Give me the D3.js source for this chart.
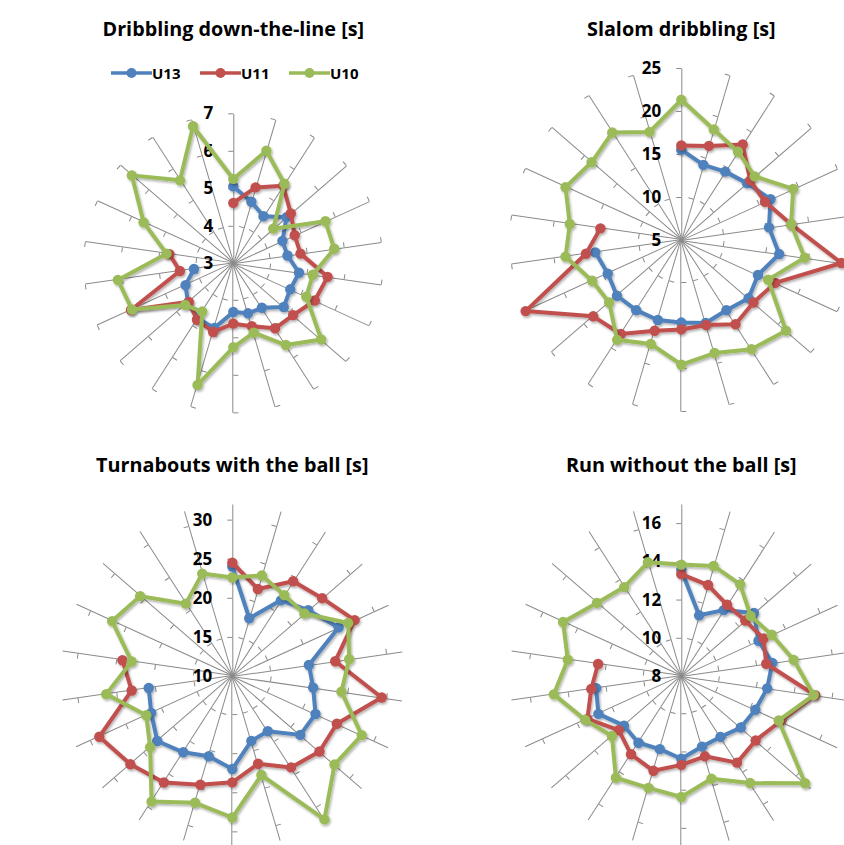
<!DOCTYPE html>
<html>
<head>
<meta charset="utf-8">
<script src="https://cdn.jsdelivr.net/npm/d3@7"></script>
<style>
  body { margin: 0; background: #fff; }
  svg text { font-family: "Open Sans", Lato, sans-serif; }
</style>
</head>
<body>
<svg id="chart" width="844" height="845"></svg>
<script>
// Age groups and their colours
const seriesNames = ["U13", "U11", "U10"];
const seriesColors = ["#4F81BD", "#C0504D", "#9BBB59"];

// 22 tested players / spokes, clockwise from the top
const spokeCount = 22;
const spokeIds = d3.range(1, spokeCount + 1);

// Dribbling down-the-line [s]
const dribblingTicks = [3, 4, 5, 6, 7];
const dribblingU13 = [5.05, 4.71, 4.49, 4.88, 4.44, 4.46, 4.77, 4.67, 4.78, 4.41, 4.39, 4.30, 4.80, 4.75, 4.60, 4.40, 4.06];
const dribblingU11 = [4.61, 5.11, 5.46, 5.03, 4.80, 4.81, 5.54, 5.39, 5.11, 5.06, 4.75, 4.61, 4.91, 4.79, 4.57, 6.00, 4.44, 4.72];
const dribblingU10 = [5.25, 6.13, 5.52, 4.41, 5.70, 5.72, 5.14, 5.14, 6.10, 5.59, 4.93, 5.24, 6.38, 4.53, 4.70, 5.97, 6.11, 4.80, 5.63, 6.58, 5.63, 6.81];

// Slalom dribbling [s]
const slalomTicks = [5, 10, 15, 20, 25];
const slalomU13 = [15.5, 14.1, 14.45, 15.1, 16.4, 15.3, 16.5, 14.8, 15.35, 14.7, 15.05, 14.6, 14.7, 14.7, 14.9, 14.4, 15.1];
const slalomU11 = [16.0, 16.4, 18.2, 15.6, 15.7, 17.9, 23.8, 17.0, 16.1, 16.65, 15.3, 15.4, 16.0, 18.0, 18.55, 24.9, 16.2, 14.5];
const slalomU10 = [21.3, 18.4, 17.2, 16.3, 19.3, 17.9, 19.5, 16.1, 21.1, 20.1, 18.7, 19.5, 17.6, 18.8, 16.1, 16.4, 18.6, 18.1, 19.8, 18.8, 19.85, 18.1];

// Turnabouts with the ball [s]
const turnaboutTicks = [10, 15, 20, 25, 30];
const turnaboutU13 = [24.0, 17.7, 21.5, 22.85, 24.95, 19.9, 20.45, 21.7, 21.5, 18.4, 18.65, 21.9, 20.7, 21.6, 22.7, 21.4, 20.8];
const turnaboutU11 = [24.5, 21.6, 24.4, 25.2, 27.2, 23.3, 29.3, 24.7, 24.75, 23.9, 21.7, 23.6, 24.5, 26.2, 27.25, 28.7, 23.0, 24.2];
const turnaboutU10 = [22.6, 23.4, 22.3, 22.2, 26.3, 25.1, 24.1, 28.2, 27.3, 31.8, 23.2, 28.1, 26.9, 29.1, 23.9, 22.1, 26.3, 23.0, 26.9, 25.6, 21.0, 23.65];

// Run without the ball [s]
const runTicks = [8, 10, 12, 14, 16];
const runU13 = [13.55, 11.31, 12.1, 13.03, 12.44, 12.81, 12.54, 12.26, 12.12, 11.79, 11.85, 12.33, 11.99, 12.15, 11.97, 12.77, 12.5];
const runU11 = [13.33, 12.96, 12.43, 12.43, 12.73, 12.49, 15.08, 13.7, 13.15, 13.39, 12.38, 12.65, 13.17, 12.87, 12.33, 13.4, 12.76, 12.4];
const runU10 = [13.83, 14.0, 13.7, 12.8, 13.2, 13.94, 15.0, 13.6, 16.57, 14.66, 13.6, 14.33, 14.1, 14.33, 12.8, 13.53, 14.74, 14.0, 14.8, 13.84, 13.53, 14.2];

const panels = [
  { title: "Dribbling down-the-line [s]", series: [dribblingU13, dribblingU11, dribblingU10],
    ticks: dribblingTicks, domain: [3, 7], cx: 233.3, cy: 263.3, radius: 150, titleY: 36, legend: true },
  { title: "Slalom dribbling [s]", series: [slalomU13, slalomU11, slalomU10],
    ticks: slalomTicks, domain: [5, 25], cx: 681.3, cy: 240, radius: 172, titleY: 36 },
  { title: "Turnabouts with the ball [s]", series: [turnaboutU13, turnaboutU11, turnaboutU10],
    ticks: turnaboutTicks, domain: [10, 32], cx: 232.3, cy: 676, radius: 172, titleY: 472 },
  { title: "Run without the ball [s]", series: [runU13, runU11, runU10],
    ticks: runTicks, domain: [8, 17], cx: 681.3, cy: 676, radius: 172, titleY: 472 }
];

const svg = d3.select("#chart");

// soft shadow under the series lines and markers
svg.append("defs").append("filter")
  .attr("id", "shadow").attr("x", "-20%").attr("y", "-20%").attr("width", "140%").attr("height", "140%")
  .append("feDropShadow")
  .attr("dx", 1.2).attr("dy", 1.8).attr("stdDeviation", 1.2)
  .attr("flood-color", "#000").attr("flood-opacity", 0.3);

const angle = d3.scaleLinear().domain([0, spokeCount]).range([0, 2 * Math.PI]);
const toDeg = a => a * 180 / Math.PI;

panels.forEach(p => {
  const g = svg.append("g").attr("transform", `translate(${p.cx},${p.cy})`);
  const r = d3.scaleLinear().domain(p.domain).range([0, p.radius]);
  // value scale along an upward spoke
  const ry = d3.scaleLinear().domain(p.domain).range([0, -p.radius]);

  // spokes with tick marks on their counter-clockwise side
  spokeIds.forEach((id, i) => {
    const ax = g.append("g")
      .attr("transform", `rotate(${toDeg(angle(i))})`)
      .call(d3.axisLeft(ry)
        .tickValues(p.ticks.filter(t => t > p.domain[0]))
        .tickSize(5).tickSizeOuter(0).tickFormat(""));
    ax.select(".domain").attr("stroke", "#8a8a8a").attr("stroke-width", 1);
    ax.selectAll(".tick line").attr("stroke", "#8a8a8a").attr("stroke-width", 1);
  });

  // value labels beside the top spoke
  const labels = g.append("g")
    .call(d3.axisLeft(ry).tickValues(p.ticks).tickSize(0).tickPadding(20).tickFormat(d3.format("d")));
  labels.select(".domain").remove();
  labels.selectAll(".tick text")
    .attr("fill", "#000").attr("font-size", 17).attr("font-weight", "bold")
    .style("font-family", "'Open Sans', Lato, sans-serif");

  // series: line then markers, U13 first so U10 ends on top
  p.series.forEach((vals, si) => {
    const sg = g.append("g").attr("filter", "url(#shadow)");
    const line = d3.lineRadial()
      .angle((d, i) => angle(i))
      .radius(d => r(d))
      .curve(vals.length === spokeCount ? d3.curveLinearClosed : d3.curveLinear);
    sg.append("path")
      .attr("d", line(vals))
      .attr("fill", "none")
      .attr("stroke", seriesColors[si])
      .attr("stroke-width", 4)
      .attr("stroke-linejoin", "round");
    sg.selectAll("circle").data(vals).join("circle")
      .attr("cx", (d, i) => r(d) * Math.sin(angle(i)))
      .attr("cy", (d, i) => -r(d) * Math.cos(angle(i)))
      .attr("r", 5.2)
      .attr("fill", seriesColors[si]);
  });

  // title
  svg.append("text")
    .attr("x", p.cx).attr("y", p.titleY)
    .attr("text-anchor", "middle")
    .attr("font-size", 19.8).attr("font-weight", "bold").attr("fill", "#000")
    .text(p.title);

  // legend
  if (p.legend) {
    const legendX = [111, 200, 289];
    const lg = svg.append("g").attr("transform", "translate(0,73)");
    seriesNames.forEach((name, si) => {
      const item = lg.append("g").attr("transform", `translate(${legendX[si]},0)`);
      item.append("line").attr("x1", 0).attr("x2", 41).attr("y1", 0).attr("y2", 0)
        .attr("stroke", seriesColors[si]).attr("stroke-width", 3.5);
      item.append("circle").attr("cx", 20.5).attr("cy", 0).attr("r", 5).attr("fill", seriesColors[si]);
      item.append("text").attr("x", 41).attr("y", 5.5)
        .attr("font-size", 15).attr("font-weight", "bold").attr("fill", "#000")
        .text(name);
    });
  }
});
</script>
</body>
</html>
